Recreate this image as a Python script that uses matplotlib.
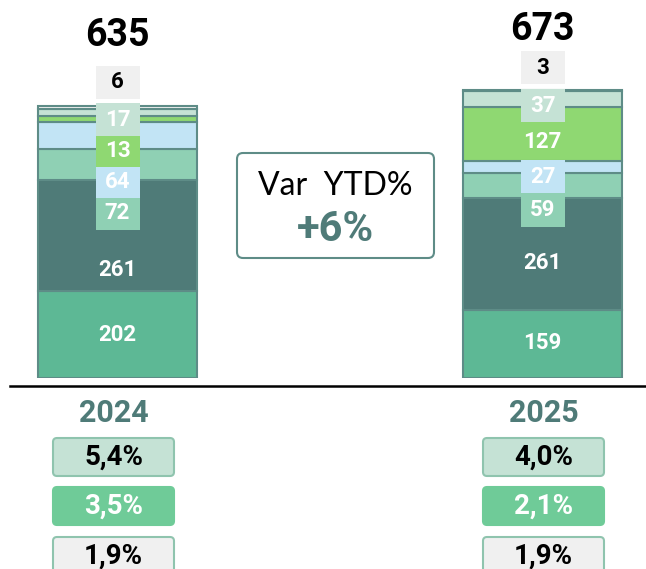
import matplotlib.pyplot as plt
from matplotlib.patches import FancyBboxPatch

# data
years = ['2024', '2025']
segments = ['base', 'core', 'mid', 'blue', 'green', 'pale', 'other']
values_2024 = [202, 261, 72, 64, 13, 17, 6]
values_2025 = [159, 261, 59, 27, 127, 37, 3]
rate_a = [5.4, 4.0]
rate_b = [3.5, 2.1]
rate_c = [1.9, 1.9]

colors = ['#5db895', '#4f7b78', '#8fd0b4', '#c2e4f5', '#8fd872', '#c5e2d5', '#f0f0f0']
label_box = [False, False, True, True, True, True, True]
# label centres (value units), picked so the small labels do not collide
label_y_2024 = [100, 252, 385, 458, 531, 604, 692]
label_y_2025 = [81, 268, 392, 470, 551, 636, 725]
box_2025 = [False, False, True, True, False, True, True]

W, H = 646, 569
fig = plt.figure(figsize=(W / 100, H / 100), dpi=100)
plt.rcParams['font.family'] = ['Roboto', 'DejaVu Sans']

# bar axes: value units on y, bars centred at 0 and 1
scale = 0.427  # px per unit
base_px = 377.5
ax = fig.add_axes([0, (H - base_px) / H, 1, base_px / H])
ax.set_xlim(-117.5 / 425, (W - 117.5) / 425)
ax.set_ylim(0, base_px / scale)
ax.axis('off')

bar_w = 159 / 425
box_w = 44 / 425
box_h = 33 / scale
data = [values_2024, values_2025]
lab_y = [label_y_2024, label_y_2025]
boxes = [label_box, box_2025]

for i, vals in enumerate(data):
    bottom = 0
    for j, v in enumerate(vals):
        ax.bar(i, v, bottom=bottom, width=bar_w, color=colors[j],
               edgecolor='#5e8c87', linewidth=1.5, zorder=2)
        bottom += v
    for j, v in enumerate(vals):
        y = lab_y[i][j]
        if boxes[i][j]:
            ax.bar(i, box_h, bottom=y - box_h / 2, width=box_w,
                   color=colors[j], linewidth=0, zorder=3)
        tc = 'black' if j == len(vals) - 1 else 'white'
        ax.text(i, y, str(v), ha='center', va='center', color=tc,
                fontsize=16, fontweight='bold', zorder=4)
    ax.text(i, sum(vals) + 167 - 24 * i, str(sum(vals)), ha='center', va='center',
            fontsize=27, fontweight='bold', color='black')

# overlay axes in pixel units
ov = fig.add_axes([0, 0, 1, 1])
ov.set_xlim(0, W)
ov.set_ylim(0, H)
ov.axis('off')

ov.plot([10, W], [H - 386, H - 386], color='black', lw=1.8)

# variation box
var = (sum(values_2025) / sum(values_2024) - 1) * 100
ov.add_patch(FancyBboxPatch((237, H - 258), 197, 105,
                            boxstyle='round,pad=0,rounding_size=6',
                            facecolor='white', edgecolor='#5e8c87', lw=1.5))
ov.text(335.5, H - 186, 'Var  YTD%', ha='center', va='center',
        fontsize=23, color='black', family='Lato')
ov.text(335.5, H - 229, f'{var:+.0f}%', ha='center', va='center',
        fontsize=30, fontweight='bold', color='#4f7b78')

centres = [113.5, 543.5]
rows = [
    (rate_a, '#c5e2d5', '#8fc4ae', 'black', 457),
    (rate_b, '#6fcb98', '#6fcb98', 'white', 506),
    (rate_c, '#f0f0f0', '#8fc4ae', 'black', 556),
]
for k, cx in enumerate(centres):
    ov.text(cx, H - 413, years[k], ha='center', va='center',
            fontsize=22, fontweight='bold', color='#4f7b78')
    for vals, fc, ec, tc, cy in rows:
        ov.add_patch(FancyBboxPatch((cx - 60.5, H - cy - 19), 121, 38,
                                    boxstyle='round,pad=0,rounding_size=4',
                                    facecolor=fc, edgecolor=ec, lw=1.5))
        txt = f'{vals[k]:.1f}%'.replace('.', ',')
        ov.text(cx, H - cy, txt, ha='center', va='center',
                fontsize=20, fontweight='bold', color=tc)

fig.savefig('out.png', dpi=100)
